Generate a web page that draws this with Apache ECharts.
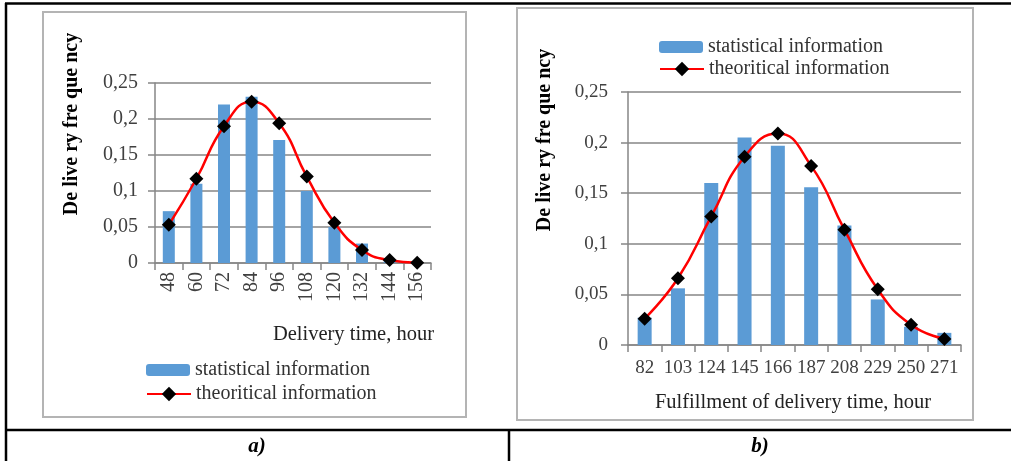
<!DOCTYPE html>
<html>
<head>
<meta charset="utf-8">
<script src="https://cdn.jsdelivr.net/npm/echarts@6/dist/echarts.min.js"></script>
<style>
  html, body { margin: 0; padding: 0; background: #fff; }
  #chart { width: 1011px; height: 461px; }
</style>
</head>
<body>
<div id="chart"></div>
<script>
// chart a) delivery time
var catsA = ['48', '60', '72', '84', '96', '108', '120', '132', '144', '156'];
var statA = [0.072, 0.11, 0.22, 0.231, 0.171, 0.1, 0.05, 0.027, 0.002, 0];
var theoA = [0.053, 0.117, 0.19, 0.224, 0.194, 0.12, 0.056, 0.018, 0.004, 0.0005];

// chart b) fulfillment of delivery time
var catsB = ['82', '103', '124', '145', '166', '187', '208', '229', '250', '271'];
var statB = [0.027, 0.056, 0.16, 0.205, 0.197, 0.156, 0.118, 0.045, 0.018, 0.012];
var theoB = [0.026, 0.066, 0.127, 0.186, 0.209, 0.177, 0.114, 0.055, 0.02, 0.006];

var yTicks = [0, 0.05, 0.1, 0.15, 0.2, 0.25];

var serif = 'Liberation Serif';
var grey = '#868686';
var barName = 'statistical information';
var lineName = 'theoritical information';

function xAxisOf(idx, cats, rotate, margin, fs) {
  return {
    type: 'category', gridIndex: idx, data: cats,
    axisLine: { lineStyle: { color: grey, width: 1.5 } },
    axisTick: { show: true, inside: false, length: 7, lineStyle: { color: grey, width: 1.5 } },
    axisLabel: { interval: 0, rotate: rotate, margin: margin, color: '#404040',
      fontFamily: serif, fontSize: fs }
  };
}
function yAxisOf(idx, margin, fs) {
  return {
    type: 'value', gridIndex: idx, min: yTicks[0], max: yTicks[yTicks.length - 1], interval: 0.05,
    axisLine: { show: true, lineStyle: { color: grey, width: 1.5 } },
    axisTick: { show: true, length: 7, lineStyle: { color: grey, width: 1.5 } },
    splitLine: { lineStyle: { color: grey, width: 1.5 } },
    axisLabel: { margin: margin, color: '#404040', fontFamily: serif, fontSize: fs,
      formatter: function (v) { return String(+v.toFixed(2)).replace('.', ','); } }
  };
}
function barOf(idx, data, w) {
  return { name: barName, type: 'bar', xAxisIndex: idx, yAxisIndex: idx,
    data: data, barWidth: w, itemStyle: { color: '#5b9bd5' }, z: 2 };
}
function lineOf(idx, data) {
  return { name: lineName, type: 'line', xAxisIndex: idx, yAxisIndex: idx,
    data: data, smooth: true, symbol: 'diamond', symbolSize: 14,
    lineStyle: { color: '#ff0000', width: 2.5 },
    itemStyle: { color: '#000' }, z: 3 };
}
function legendOf(name, left, top, h) {
  return {
    left: left, top: top, padding: 0, itemWidth: 44, itemHeight: h, itemGap: 6,
    data: [name],
    textStyle: { fontFamily: serif, fontSize: 20, color: '#333', lineHeight: 22 }
  };
}

var chart = echarts.init(document.getElementById('chart'));
chart.setOption({
  animation: false,
  textStyle: { fontFamily: serif },
  grid: [
    { left: 155, top: 83, width: 276, height: 180 },
    { left: 628, top: 92, width: 333, height: 253 }
  ],
  xAxis: [xAxisOf(0, catsA, 90, 9, 20), xAxisOf(1, catsB, 0, 14, 19)],
  yAxis: [yAxisOf(0, 17, 20), yAxisOf(1, 20, 19)],
  legend: [
    legendOf(barName, 146, 359, 12), legendOf(lineName, 146, 383, 18),
    legendOf(barName, 659, 36, 12), legendOf(lineName, 659, 58, 18)
  ],
  series: [barOf(0, statA, 12), lineOf(0, theoA), barOf(1, statB, 14), lineOf(1, theoB)],
  graphic: [
    // chart frames
    { type: 'rect', shape: { x: 43, y: 12, width: 423, height: 405 }, silent: true, z: -1,
      style: { fill: null, stroke: '#b4b4b4', lineWidth: 2 } },
    { type: 'rect', shape: { x: 517, y: 8, width: 456, height: 412 }, silent: true, z: -1,
      style: { fill: null, stroke: '#b4b4b4', lineWidth: 2 } },
    // table lines
    { type: 'line', shape: { x1: 5, y1: 3.5, x2: 1011, y2: 3.5 }, style: { stroke: '#000', lineWidth: 2.5 } },
    { type: 'line', shape: { x1: 6, y1: 3, x2: 6, y2: 461 }, style: { stroke: '#000', lineWidth: 2.5 } },
    { type: 'line', shape: { x1: 5, y1: 430, x2: 1011, y2: 430 }, style: { stroke: '#000', lineWidth: 2.5 } },
    { type: 'line', shape: { x1: 509, y1: 430, x2: 509, y2: 461 }, style: { stroke: '#000', lineWidth: 2.5 } },
    // captions
    { type: 'text', x: 257, y: 447, style: { text: 'a)', fontFamily: serif, fontSize: 21,
      fontWeight: 'bold', fontStyle: 'italic', fill: '#000', align: 'center', verticalAlign: 'middle' } },
    { type: 'text', x: 760, y: 447, style: { text: 'b)', fontFamily: serif, fontSize: 21,
      fontWeight: 'bold', fontStyle: 'italic', fill: '#000', align: 'center', verticalAlign: 'middle' } },
    // axis titles
    { type: 'text', x: 434, y: 335, style: { text: 'Delivery time, hour', fontFamily: serif, fontSize: 20.5,
      fill: '#222', align: 'right', verticalAlign: 'middle' } },
    { type: 'text', x: 793, y: 403, style: { text: 'Fulfillment of delivery time, hour', fontFamily: serif,
      fontSize: 20.5, fill: '#222', align: 'center', verticalAlign: 'middle' } },
    { type: 'text', x: 72, y: 124, rotation: Math.PI / 2, style: { text: 'De live ry fre que ncy',
      fontFamily: serif, fontSize: 20, fontWeight: 'bold', fill: '#000', align: 'center', verticalAlign: 'middle' } },
    { type: 'text', x: 545, y: 140, rotation: Math.PI / 2, style: { text: 'De live ry fre que ncy',
      fontFamily: serif, fontSize: 20, fontWeight: 'bold', fill: '#000', align: 'center', verticalAlign: 'middle' } }
  ]
});
</script>
</body>
</html>
